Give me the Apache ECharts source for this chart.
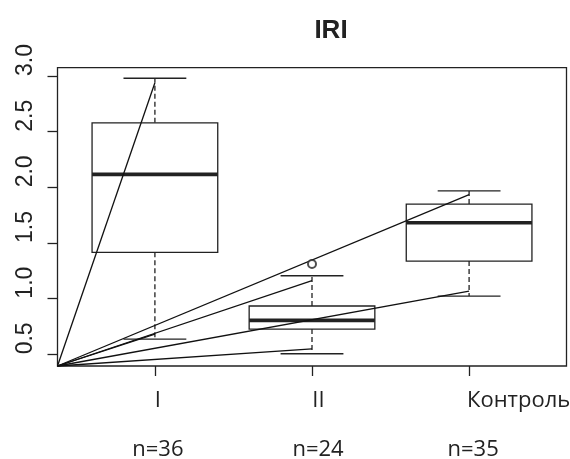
<!DOCTYPE html>
<html>
<head>
<meta charset="utf-8">
<script src="https://cdn.jsdelivr.net/npm/echarts@6/dist/echarts.min.js"></script>
<style>html,body{margin:0;padding:0;background:#fff}#c{width:570px;height:459px}</style>
</head>
<body>
<div id="c"></div>
<script>
const categories = ['I', 'II', 'Контроль'];
const nLabels = ['n=36', 'n=24', 'n=35'];
const catPos = [1, 2, 3];
const whiskerLow = [0.637, 0.505, 1.023];
const q1 = [1.416, 0.727, 1.338];
const median = [2.117, 0.805, 1.682];
const q3 = [2.58, 0.934, 1.85];
const whiskerHigh = [2.98, 1.206, 1.969];
const outlierCat = [2];
const outlierVal = [1.311];
const rayCat = [1, 1, 2, 2, 3, 3];
const rayVal = [2.94, 0.682, 1.161, 0.549, 1.934, 1.068];
const yTicks = [0.5, 1.0, 1.5, 2.0, 2.5, 3.0];
const yTickLabels = ['0.5', '1.0', '1.5', '2.0', '2.5', '3.0'];
const xMin = 0.38, xMax = 3.62, yMin = 0.395, yMax = 3.075;

const INK = '#222';
const chart = echarts.init(document.getElementById('c'), null, {renderer: 'canvas'});

const boxData = catPos.map((c, i) => [c, whiskerLow[i], q1[i], median[i], q3[i], whiskerHigh[i]]);
const rayData = rayCat.map((c, i) => [c, rayVal[i]]);
const catPad = [6, 13, 99];
const nPad = [6, 12, 8];

chart.setOption({
  animation: false,
  grid: {left: 57.5, right: 3.5, top: 67.7, bottom: 93, show: true, borderColor: INK, borderWidth: 1.3,
         backgroundColor: 'transparent', containLabel: false, outerBoundsMode: 'none'},
  graphic: [{
    type: 'text', x: 331, y: 31,
    style: {text: 'IRI', font: 'bold 26px "Liberation Sans"', align: 'center', verticalAlign: 'middle', fill: INK}
  }],
  xAxis: [{
    type: 'value', min: xMin, max: xMax, position: 'bottom',
    axisLine: {show: false},
    splitLine: {show: false},
    axisTick: {show: true, length: 10, customValues: catPos, lineStyle: {color: INK, width: 1.3}},
    axisLabel: {
      customValues: catPos, margin: 24, color: INK, fontFamily: 'Open Sans', fontSize: 22,
      formatter: v => { const i = Math.round(v) - 1; return '{c' + i + '|' + categories[i] + '}'; },
      rich: {
        c0: {padding: [0, 0, 0, catPad[0]], fontFamily: 'Open Sans', fontSize: 22, color: INK},
        c1: {padding: [0, 0, 0, catPad[1]], fontFamily: 'Open Sans', fontSize: 22, color: INK},
        c2: {padding: [0, 0, 0, catPad[2]], fontFamily: 'Open Sans', fontSize: 22, color: INK}
      }
    }
  }, {
    type: 'value', min: xMin, max: xMax, position: 'bottom',
    axisLine: {show: false}, splitLine: {show: false}, axisTick: {show: false},
    axisLabel: {
      customValues: catPos, margin: 73, color: INK, fontFamily: 'Open Sans', fontSize: 22,
      formatter: v => { const i = Math.round(v) - 1; return '{n' + i + '|' + nLabels[i] + '}'; },
      rich: {
        n0: {padding: [0, 0, 0, nPad[0]], fontFamily: 'Open Sans', fontSize: 22, color: INK},
        n1: {padding: [0, 0, 0, nPad[1]], fontFamily: 'Open Sans', fontSize: 22, color: INK},
        n2: {padding: [0, 0, 0, nPad[2]], fontFamily: 'Open Sans', fontSize: 22, color: INK}
      }
    }
  }],
  yAxis: {
    type: 'value', min: yMin, max: yMax,
    axisLine: {show: false}, splitLine: {show: false},
    axisTick: {show: true, length: 10, customValues: yTicks, lineStyle: {color: INK, width: 1.3}},
    axisLabel: {
      customValues: yTicks, rotate: 90, align: 'left', verticalAlign: 'bottom', margin: 20,
      color: INK, fontFamily: 'Liberation Sans', fontSize: 23,
      formatter: v => yTickLabels[yTicks.findIndex(t => Math.abs(t - v) < 1e-6)]
    }
  },
  series: [{
    type: 'custom', xAxisIndex: 0, yAxisIndex: 0, data: boxData, clip: false,
    renderItem: (params, api) => {
      const c = api.value(0);
      const lo = api.coord([c, api.value(1)]), a = api.coord([c, api.value(2)]);
      const m = api.coord([c, api.value(3)]), b = api.coord([c, api.value(4)]);
      const hi = api.coord([c, api.value(5)]);
      const hw = api.size([0.4, 0])[0], cw = api.size([0.2, 0])[0];
      const x = a[0];
      const st = {stroke: INK, lineWidth: 1.3, fill: null};
      return {type: 'group', children: [
        {type: 'line', shape: {x1: x, y1: b[1], x2: x, y2: hi[1]}, style: Object.assign({}, st, {lineDash: [5, 3]})},
        {type: 'line', shape: {x1: x, y1: a[1], x2: x, y2: lo[1]}, style: Object.assign({}, st, {lineDash: [5, 3]})},
        {type: 'line', shape: {x1: x - cw, y1: hi[1], x2: x + cw, y2: hi[1]}, style: st},
        {type: 'line', shape: {x1: x - cw, y1: lo[1], x2: x + cw, y2: lo[1]}, style: st},
        {type: 'rect', shape: {x: x - hw, y: b[1], width: 2 * hw, height: a[1] - b[1]}, style: {stroke: INK, lineWidth: 1.3, fill: '#fff'}},
        {type: 'line', shape: {x1: x - hw, y1: m[1], x2: x + hw, y2: m[1]}, style: {stroke: INK, lineWidth: 3.6}}
      ]};
    }
  }, {
    type: 'custom', xAxisIndex: 0, yAxisIndex: 0, data: rayData, z: 3,
    renderItem: (params, api) => {
      const o = api.coord([xMin, yMin]);
      const p = api.coord([api.value(0), api.value(1)]);
      return {type: 'line', shape: {x1: o[0], y1: o[1], x2: p[0], y2: p[1]}, style: {stroke: '#111', lineWidth: 1.3}};
    }
  }, {
    type: 'scatter', xAxisIndex: 0, yAxisIndex: 0, z: 4,
    data: outlierCat.map((c, i) => [c, outlierVal[i]]),
    symbol: 'emptyCircle', symbolSize: 8,
    itemStyle: {color: INK, borderColor: INK, borderWidth: 1.2}
  }]
});
</script>
</body>
</html>
